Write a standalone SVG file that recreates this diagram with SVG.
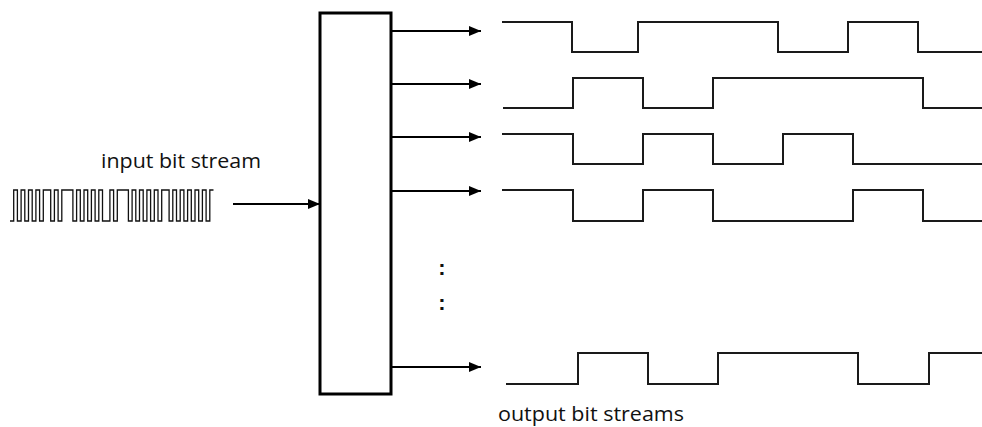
<svg xmlns="http://www.w3.org/2000/svg" width="982" height="427" viewBox="0 0 982 427">
<defs>
<marker id="ah" markerWidth="14" markerHeight="12" refX="12" refY="5" orient="auto" markerUnits="userSpaceOnUse">
<path d="M0,0 L12,5 L0,10 Z" fill="#000"/>
</marker>
<style>
.wave{fill:none;stroke:#1a1a1a;stroke-width:2;stroke-linejoin:miter}
.conn{fill:none;stroke:#000;stroke-width:2.2;marker-end:url(#ah)}
.lbl{font-family:"Open Sans","Liberation Sans",sans-serif;font-size:20px;fill:#111}
.dot{font-family:"Liberation Sans",sans-serif;font-size:22px;font-weight:bold;fill:#111}
</style>
</defs>
<rect width="982" height="427" fill="#fff"/>
<g id="input">
<text class="lbl" x="101" y="168" textLength="160" lengthAdjust="spacingAndGlyphs">input bit stream</text>
<path id="inwave" fill="none" stroke="#111" stroke-width="1.3" d="M10,221 h3.7 V190 h3.7 V221 h3.7 V190 h3.7 V221 h3.7 V190 h3.7 V221 h3.7 V190 h3.7 V221 h3.7 V190 h7.4 V221 h3.7 V190 h3.7 V221 h3.7 V190 h11.1 V221 h3.7 V190 h3.7 V221 h3.7 V190 h3.7 V221 h3.7 V190 h3.7 V221 h3.7 V190 h3.7 V221 h7.4 V190 h3.7 V221 h3.7 V190 h11.1 V221 h3.7 V190 h3.7 V221 h3.7 V190 h3.7 V221 h3.7 V190 h3.7 V221 h3.7 V190 h3.7 V221 h3.7 V190 h7.4 V221 h3.7 V190 h3.7 V221 h3.7 V190 h3.7 V221 h3.7 V190 h3.7 V221 h3.7 V190 h3.7 V221 h3.7 V190 h3.7 V221 h3.7 V190 h3.7"/>
</g>
<g id="box">
<rect x="320" y="13" width="71" height="381" fill="#fff" stroke="#000" stroke-width="3"/>
</g>
<g id="connectors">
<line class="conn" x1="233" y1="204" x2="320" y2="204"/>
<line class="conn" x1="392" y1="31" x2="481" y2="31"/>
<line class="conn" x1="392" y1="84" x2="481" y2="84"/>
<line class="conn" x1="392" y1="137" x2="481" y2="137"/>
<line class="conn" x1="392" y1="191" x2="481" y2="191"/>
<line class="conn" x1="392" y1="367" x2="481" y2="367"/>
</g>
<g id="dots">
<text class="dot" x="442" y="275" text-anchor="middle">:</text>
<text class="dot" x="442" y="310" text-anchor="middle">:</text>
</g>
<g id="outputs">
<path class="wave" d="M502,22 H572 V52 H638 V22 H778 V52 H848 V22 H918 V52 H982"/>
<path class="wave" d="M503,108 H573 V78 H643 V108 H713 V78 H923 V108 H982"/>
<path class="wave" d="M502,134 H573 V164 H643 V134 H713 V164 H783 V134 H853 V164 H982"/>
<path class="wave" d="M502,190 H573 V221 H643 V190 H713 V221 H853 V190 H923 V221 H982"/>
<path class="wave" d="M506,384 H578 V353 H648 V384 H718 V353 H858 V384 H929 V353 H982"/>
<text class="lbl" x="498" y="421" textLength="186" lengthAdjust="spacingAndGlyphs">output bit streams</text>
</g>
</svg>
